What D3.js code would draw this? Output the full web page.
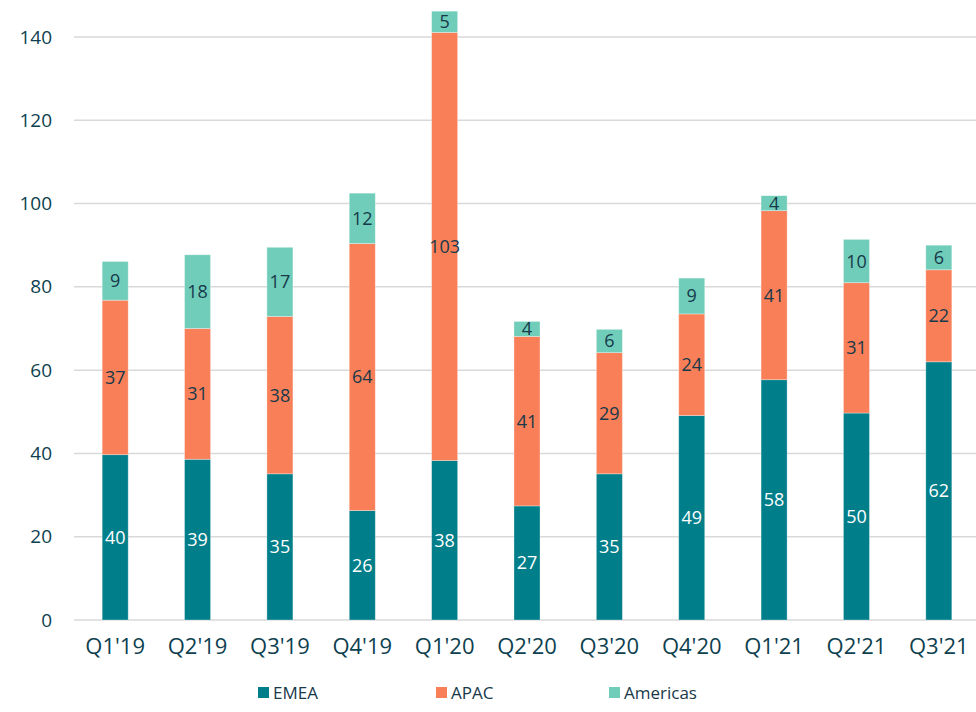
<!DOCTYPE html>
<html>
<head>
<meta charset="utf-8">
<script src="https://cdn.jsdelivr.net/npm/d3@7"></script>
<style>
  body { margin: 0; background: #fff; }
  svg text { font-family: "Open Sans", "Noto Sans", sans-serif; }
</style>
</head>
<body>
<div id="chart"></div>
<script>
// Quarterly values
const quarters = ["Q1'19", "Q2'19", "Q3'19", "Q4'19", "Q1'20", "Q2'20", "Q3'20", "Q4'20", "Q1'21", "Q2'21", "Q3'21"];
const emea     = [39.7, 38.6, 35.1, 26.3, 38.3, 27.4, 35.1, 49.1, 57.7, 49.7, 62.0];
const apac     = [37.1, 31.4, 37.8, 64.1, 102.8, 40.7, 29.1, 24.4, 40.6, 31.3, 22.1];
const americas = [9.3, 17.7, 16.6, 12.1, 5.1, 3.6, 5.6, 8.6, 3.6, 10.4, 5.9];
const yTicks   = [0, 20, 40, 60, 80, 100, 120, 140];

const seriesNames = ["EMEA", "APAC", "Americas"];
const colors = { EMEA: "#007e8a", APAC: "#f97f58", Americas: "#70cdb9" };
const labelColors = { EMEA: "#ffffff", APAC: "#17394a", Americas: "#17394a" };

const width = 976, height = 712;
const plotLeft = 74, plotRight = 980, plotTop = 37, plotBottom = 620;

const rows = quarters.map((q, i) => ({ q, EMEA: emea[i], APAC: apac[i], Americas: americas[i] }));
const stacked = d3.stack().keys(seriesNames)(rows);

const x = d3.scaleBand().domain(quarters).range([plotLeft, plotRight]).paddingInner(0.684).paddingOuter(0.342);
const y = d3.scaleLinear().domain([0, 140]).range([plotBottom, plotTop]);

const svg = d3.select("#chart")
    .append("svg")
    .attr("width", width)
    .attr("height", height);

// Gridlines
svg.append("g")
    .selectAll("line")
    .data(yTicks)
    .enter()
    .append("line")
    .attr("x1", plotLeft)
    .attr("x2", width)
    .attr("y1", d => y(d))
    .attr("y2", d => y(d))
    .style("stroke", "#d9d9d9")
    .style("stroke-width", "1.5px");

// Y axis labels
const yAxis = svg.append("g")
    .attr("transform", `translate(${plotLeft},0)`)
    .call(d3.axisLeft(y).tickValues(yTicks).tickSize(0).tickPadding(22));
yAxis.select(".domain").remove();
yAxis.selectAll("text")
    .style("font-size", "19px")
    .style("fill", "#0e3f4f");

// X axis labels
const xAxis = svg.append("g")
    .attr("transform", `translate(0,${plotBottom})`)
    .call(d3.axisBottom(x).tickSize(0).tickPadding(18));
xAxis.select(".domain").remove();
xAxis.selectAll("text")
    .style("font-size", "22px")
    .style("fill", "#0e3f4f");

// Bars
const layer = svg.selectAll("g.layer")
    .data(stacked)
    .enter()
    .append("g")
    .attr("class", "layer")
    .style("fill", d => colors[d.key]);

layer.selectAll("rect")
    .data(d => d)
    .enter()
    .append("rect")
    .attr("x", d => x(d.data.q))
    .attr("width", x.bandwidth())
    .attr("y", d => y(d[1]))
    .attr("height", d => y(d[0]) - y(d[1]))
    .style("stroke", "#ffffff")
    .style("stroke-opacity", 0.4)
    .style("stroke-width", "0.8px");

// Data labels
layer.selectAll("text")
    .data(d => d.map(v => ({ v, key: d.key })))
    .enter()
    .append("text")
    .attr("x", d => x(d.v.data.q) + x.bandwidth() / 2)
    .attr("y", d => (y(d.v[0]) + y(d.v[1])) / 2)
    .attr("text-anchor", "middle")
    .attr("dy", ".36em")
    .text(d => Math.round(d.v[1] - d.v[0]))
    .style("fill", d => labelColors[d.key])
    .style("font-size", "18px");

// Legend
const legendX = [258, 436, 609];
const legend = svg.append("g")
    .selectAll("g")
    .data(seriesNames)
    .enter()
    .append("g")
    .attr("transform", (d, i) => `translate(${legendX[i]},693)`);

legend.append("rect")
    .attr("x", 0)
    .attr("y", -6)
    .attr("width", 11)
    .attr("height", 11)
    .style("fill", d => colors[d]);

legend.append("text")
    .attr("x", 15)
    .attr("y", 0)
    .attr("dy", ".35em")
    .text(d => d)
    .style("font-size", "17px")
    .style("fill", "#17394a");
</script>
</body>
</html>
